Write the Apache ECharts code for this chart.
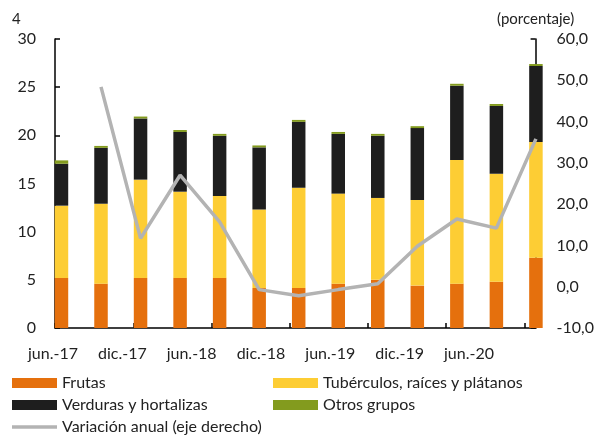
<!DOCTYPE html>
<html>
<head>
<meta charset="utf-8">
<script src="https://cdn.jsdelivr.net/npm/echarts@6/dist/echarts.min.js"></script>
<style>
  html, body { margin: 0; padding: 0; background: #fff; }
  #chart { width: 597px; height: 436px; }
</style>
</head>
<body>
<div id="chart"></div>
<script>
// quarterly categories, one bar each
const categories = ['jun.-17', 'sep.-17', 'dic.-17', 'mar.-18', 'jun.-18', 'sep.-18', 'dic.-18',
  'mar.-19', 'jun.-19', 'sep.-19', 'dic.-19', 'mar.-20', 'jun.-20'];
const tickLabels = ['jun.-17', 'dic.-17', 'jun.-18', 'dic.-18', 'jun.-19', 'dic.-19', 'jun.-20'];

const frutas = [5.2, 4.6, 5.2, 5.2, 5.2, 4.15, 4.15, 4.6, 5.0, 4.4, 4.6, 4.8, 7.3];
const tuberculos = [7.5, 8.3, 10.2, 8.95, 8.5, 8.15, 10.4, 9.35, 8.5, 8.9, 12.85, 11.2, 12.0];
const verduras = [4.35, 5.8, 6.35, 6.2, 6.25, 6.45, 6.85, 6.2, 6.45, 7.45, 7.7, 7.05, 7.9];
const otros = [0.35, 0.2, 0.2, 0.2, 0.2, 0.2, 0.2, 0.2, 0.2, 0.2, 0.2, 0.2, 0.2];
const variacion = [null, 48.4, 11.7, 27.0, 15.7, -0.7, -2.2, -0.7, 0.7, 9.8, 16.4, 14.2, 35.8];

const FONT = 'Lato';
const chart = echarts.init(document.getElementById('chart'));

function barSeries(name, values, color) {
  return {
    name: name,
    type: 'bar',
    stack: 'total',
    xAxisIndex: 0,
    yAxisIndex: 0,
    barWidth: 13.5,
    itemStyle: { color: color },
    data: values
  };
}

const axisLine = { show: true, onZero: false, lineStyle: { color: '#000', width: 1.5 } };
const axisTick = { show: true, inside: true, length: 5, lineStyle: { color: '#000', width: 1.5 } };
const labelStyle = { color: '#222', fontFamily: FONT, fontSize: 16 };
const legendText = { color: '#222', fontFamily: FONT, fontSize: 16, lineHeight: 16 };
const hidden = { axisLine: { show: false }, axisTick: { show: false }, axisLabel: { show: false }, splitLine: { show: false } };

chart.setOption({
  animation: false,
  textStyle: { fontFamily: FONT },
  grid: [
    // bars and line: bands of ~39.5px, first bar centred at x=61.5
    { left: 41.7, right: 41.3, top: 39, bottom: 108 },
    // visible frame: axes at x=55 and x=541
    { left: 55, right: 56, top: 39, bottom: 108 },
    // date labels
    { left: 53, right: 128, top: 39, bottom: 108 }
  ],
  xAxis: [
    Object.assign({ type: 'category', gridIndex: 0, data: categories, boundaryGap: true }, hidden),
    {
      type: 'value', gridIndex: 1,
      min: -0.164, max: 12.126, interval: 2,
      axisLine: axisLine, axisTick: axisTick,
      axisLabel: { show: false },
      splitLine: { show: false }
    },
    {
      type: 'category', gridIndex: 2, boundaryGap: false,
      data: tickLabels,
      axisLine: { show: false },
      axisTick: { show: false },
      axisLabel: Object.assign({ margin: 18, interval: 0 }, labelStyle)
    }
  ],
  yAxis: [
    Object.assign({ type: 'value', gridIndex: 0, min: 0, max: 30 }, hidden),
    Object.assign({ type: 'value', gridIndex: 0, min: -10, max: 60, position: 'right' }, hidden),
    {
      type: 'value', gridIndex: 1, position: 'left',
      min: 0, max: 30, interval: 5,
      axisLine: axisLine, axisTick: axisTick,
      axisLabel: Object.assign({ margin: 19 }, labelStyle),
      splitLine: { show: false }
    },
    {
      type: 'value', gridIndex: 1, position: 'right',
      min: -10, max: 60, interval: 10,
      name: '(porcentaje)',
      nameLocation: 'end',
      nameGap: 12,
      nameTextStyle: { color: '#222', fontFamily: FONT, fontSize: 15, align: 'center' },
      axisLine: axisLine, axisTick: axisTick,
      axisLabel: Object.assign({
        margin: 21,
        formatter: v => v.toFixed(1).replace('.', ',')
      }, labelStyle),
      splitLine: { show: false }
    },
    Object.assign({ type: 'value', gridIndex: 2, min: 0, max: 1 }, hidden)
  ],
  legend: [
    {
      orient: 'vertical', left: 12, top: 375, padding: 0,
      itemWidth: 45, itemHeight: 10, itemGap: 6,
      textStyle: legendText,
      data: [
        { name: 'Frutas', icon: 'rect' },
        { name: 'Verduras y hortalizas', icon: 'rect' }
      ]
    },
    {
      orient: 'vertical', left: 273, top: 375, padding: 0,
      itemWidth: 45, itemHeight: 10, itemGap: 6,
      textStyle: legendText,
      data: [
        { name: 'Tubérculos, raíces y plátanos', icon: 'rect' },
        { name: 'Otros grupos', icon: 'rect' }
      ]
    },
    {
      orient: 'vertical', left: 12, top: 419, padding: 0,
      itemWidth: 45, itemHeight: 3.5,
      textStyle: legendText,
      data: [{ name: 'Variación anual (eje derecho)', icon: 'rect' }]
    }
  ],
  graphic: [
    { type: 'text', left: 12, top: 12, style: { text: '4', fill: '#222', font: '15px ' + FONT } }
  ],
  series: [
    barSeries('Frutas', frutas, '#e5700d'),
    barSeries('Tubérculos, raíces y plátanos', tuberculos, '#fdcd34'),
    barSeries('Verduras y hortalizas', verduras, '#1e1e1e'),
    barSeries('Otros grupos', otros, '#839b1e'),
    {
      name: 'Variación anual (eje derecho)',
      type: 'line',
      xAxisIndex: 0,
      yAxisIndex: 1,
      symbol: 'none',
      lineStyle: { color: '#b3b3b3', width: 3.5 },
      itemStyle: { color: '#b3b3b3' },
      data: variacion
    }
  ]
});
</script>
</body>
</html>
